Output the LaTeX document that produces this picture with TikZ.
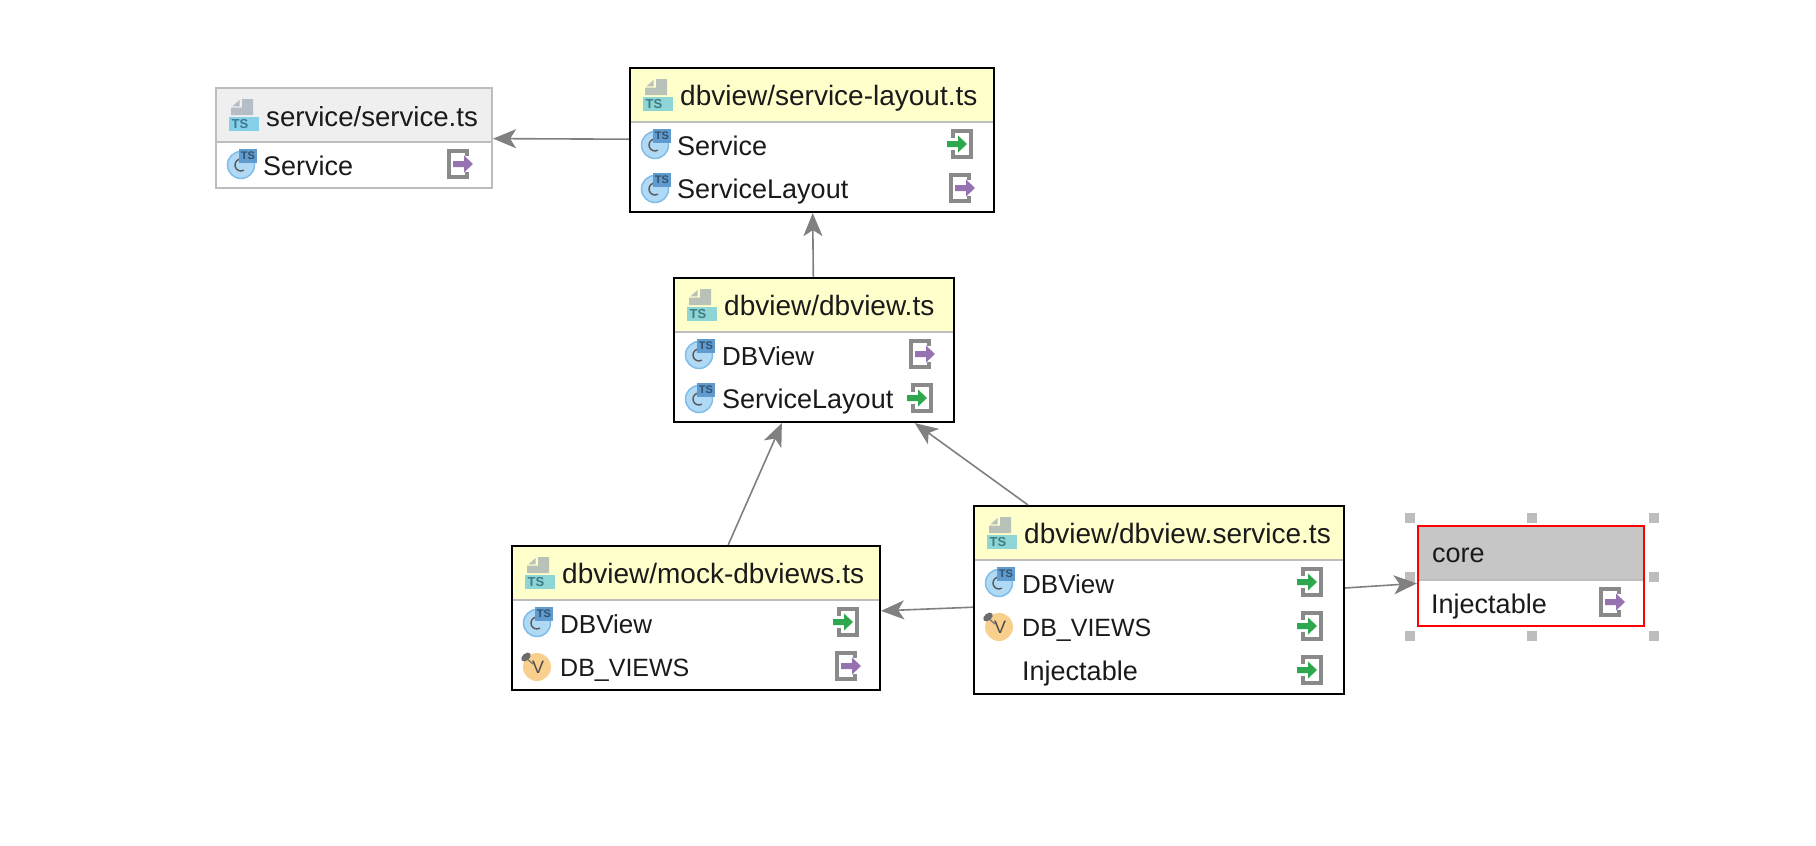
\documentclass[tikz,border=0pt]{standalone}
\usepackage{fontspec}
\setmainfont{Liberation Sans}
\usetikzlibrary{arrows.meta}
\definecolor{yellowhead}{HTML}{FFFFCC}
\definecolor{grayhead}{HTML}{EFEFEF}
\definecolor{corehead}{HTML}{C6C6C6}
\definecolor{sepgray}{HTML}{BDBDBD}
\definecolor{edgegray}{HTML}{808080}
\definecolor{txt}{HTML}{1A1A1A}
\definecolor{framegray}{HTML}{8A8A8A}
\definecolor{ingreen}{HTML}{2EA84F}
\definecolor{outpurple}{HTML}{9673B0}
\definecolor{circfill}{HTML}{B0D9F6}
\definecolor{circedge}{HTML}{7FBDE8}
\definecolor{tsbox}{HTML}{5F9BCF}
\definecolor{tsink}{HTML}{34506B}
\definecolor{varfill}{HTML}{F9CF8E}
\definecolor{doca}{HTML}{B5BDC6}
\definecolor{banda}{HTML}{85CFE8}
\definecolor{inka}{HTML}{3A7A90}
\definecolor{docb}{HTML}{B9C2B8}
\definecolor{bandb}{HTML}{8ED6D5}
\definecolor{inkb}{HTML}{3F7A85}
\tikzset{
  x=1pt,y=-1pt,
  umlbox/.style={rectangle,line width=2.2pt,inner sep=0pt,fill=white},
  label/.style={anchor=base west,inner sep=0pt,text=txt,font=\fontsize{27}{30}\selectfont},
  titlelabel/.style={label,font=\fontsize{28}{30}\selectfont},
  dbviewlabel/.style={label,font=\fontsize{26}{30}\selectfont},
  dbviewslabel/.style={label,font=\fontsize{25}{30}\selectfont},
  edge/.style={draw=edgegray,line width=1.6pt,-{Stealth[length=23pt,width=19pt,inset=6pt]}},
  handle/.style={fill=sepgray},
  frameline/.style={draw=framegray,line width=4pt},
  tsmark/.style={inner sep=0pt,text=tsink,font=\fontsize{11}{12}\selectfont\bfseries},
}
% name, left, top, right, bottom, separator y, border colour, head colour
\newcommand\mybox[8]{%
  \pgfmathsetmacro\bw{#4-#2}\pgfmathsetmacro\bh{#5-#3}%
  \node[umlbox,draw=#7,minimum width=\bw pt,minimum height=\bh pt] (#1) at ({(#2+#4)/2},{(#3+#5)/2}) {};
  \fill[#8] ({#2+1.1},{#3+1.1}) rectangle ({#4-1.1},#6);
  \draw[sepgray,line width=2pt] ({#2+1.1},#6) -- ({#4-1.1},#6);
}
% name, left, top, doc colour, band colour, band text colour
\newcommand\fileicon[6]{%
  \begin{scope}[shift={(#2,#3)}]
    \fill[#4] (26,11) -- (37,11) -- (37,27) -- (15,27) -- (15,19.5) -- (26,19.5) -- cycle;
    \fill[#4] (23.5,12) -- (23.5,18.3) -- (16.5,18.3) -- cycle;
    \fill[#5] (13,29) rectangle (43,43);
    \node[inner sep=0pt,text=#6,font=\fontsize{13}{13}\selectfont\bfseries] (#1) at (24,36.5) {TS};
  \end{scope}
}
% name, centre x, centre y
\newcommand\classicon[3]{%
  \begin{scope}[shift={(#2,#3)}]
    \fill[circfill] (0,0) circle[radius=13.5pt];
    \draw[circedge,line width=1.5pt] (0,0) circle[radius=13.5pt];
    \draw[black!65,line width=1.4pt] (0,-6) arc[start angle=90,end angle=300,radius=6pt];
    \fill[tsbox] (-2,-16) rectangle (16,-2);
    \node[tsmark] (#1) at (7,-9) {TS};
  \end{scope}
}
\newcommand\varicon[3]{%
  \begin{scope}[shift={(#2,#3)}]
    \fill[varfill] (0,0) circle[radius=14pt];
    \draw[black!55,line width=1.2pt] (-11,-9) -- (-4,-3);
    \fill[gray!85!black,rotate around={40:(-11,-10)}] (-11,-10) ellipse[x radius=5.5pt,y radius=3.5pt];
    \node[inner sep=0pt,text=black!70,font=\fontsize{18}{18}\selectfont] (#1) at (1,0) {V};
  \end{scope}
}
% frame left, centre y
\newcommand\inicon[2]{%
  \begin{scope}[shift={(#1,#2)}]
    \draw[frameline] (2,-13) rectangle (20,13);
    \fill[white] (-1,-6) rectangle (5,6);
    \fill[ingreen] (-4,-3) -- (7,-3) -- (7,-8.5) -- (16,0) -- (7,8.5) -- (7,3) -- (-4,3) -- cycle;
  \end{scope}
}
\newcommand\outicon[2]{%
  \begin{scope}[shift={(#1,#2)}]
    \draw[frameline] (2,-13) rectangle (20,13);
    \fill[white] (16,-8) rectangle (23,8);
    \fill[outpurple] (6,-3) -- (17,-3) -- (17,-8.5) -- (26,0) -- (17,8.5) -- (17,3) -- (6,3) -- cycle;
  \end{scope}
}
\begin{document}
\begin{tikzpicture}
\useasboundingbox (0,0) rectangle (1816,846);
\fill[white] (0,0) rectangle (1816,846);
% selection handles
\foreach \hx in {1410,1532,1654}{
  \foreach \hy in {518,636}{\fill[handle] ({\hx-5},{\hy-5}) rectangle ({\hx+5},{\hy+5});}
}
\foreach \hx in {1410,1654}{\fill[handle] ({\hx-5},572) rectangle ({\hx+5},582);}

\mybox{service}{216}{88}{492}{188}{142}{sepgray}{grayhead}
\fileicon{serviceTS}{216}{88}{doca}{banda}{inka}
\node[label,font=\fontsize{27.6}{30}\selectfont] (serviceT) at (266,126) {service/service.ts};
\classicon{serviceR1i}{241}{165}
\node[label] (serviceR1) at (263,175) {Service};
\outicon{447}{164}

\mybox{layout}{630}{68}{994}{212}{122}{black}{yellowhead}
\fileicon{layoutTS}{630}{68}{docb}{bandb}{inkb}
\node[titlelabel] (layoutT) at (680,105) {dbview/service-layout.ts};
\classicon{layoutR1i}{655}{145}
\node[label] (layoutR1) at (677,155) {Service};
\inicon{951}{144}
\classicon{layoutR2i}{655}{189}
\node[label] (layoutR2) at (677,198) {ServiceLayout};
\outicon{949}{188}

\mybox{dbview}{674}{278}{954}{422}{332}{black}{yellowhead}
\fileicon{dbviewTS}{674}{278}{docb}{bandb}{inkb}
\node[titlelabel] (dbviewT) at (724,315) {dbview/dbview.ts};
\classicon{dbviewR1i}{699}{355}
\node[dbviewlabel] (dbviewR1) at (722,365) {DBView};
\outicon{909}{354}
\classicon{dbviewR2i}{699}{399}
\node[label] (dbviewR2) at (722,408) {ServiceLayout};
\inicon{911}{398}

\mybox{mock}{512}{546}{880}{690}{600}{black}{yellowhead}
\fileicon{mockTS}{512}{546}{docb}{bandb}{inkb}
\node[titlelabel] (mockT) at (562,583) {dbview/mock-dbviews.ts};
\classicon{mockR1i}{537}{623}
\node[dbviewlabel] (mockR1) at (560,633) {DBView};
\inicon{837}{622}
\varicon{mockR2i}{537}{667}
\node[dbviewslabel] (mockR2) at (560,676) {DB\_VIEWS};
\outicon{835}{666}

\mybox{dbservice}{974}{506}{1344}{694}{560}{black}{yellowhead}
\fileicon{dbserviceTS}{974}{506}{docb}{bandb}{inkb}
\node[titlelabel] (dbserviceT) at (1024,543) {dbview/dbview.service.ts};
\classicon{dbserviceR1i}{999}{583}
\node[dbviewlabel] (dbserviceR1) at (1022,593) {DBView};
\inicon{1301}{582}
\varicon{dbserviceR2i}{999}{627}
\node[dbviewslabel] (dbserviceR2) at (1022,636) {DB\_VIEWS};
\inicon{1301}{626}
\node[label] (dbserviceR3) at (1022,680) {Injectable};
\inicon{1301}{670}

\mybox{core}{1418}{526}{1644}{626}{580}{red}{corehead}
\node[label] (coreT) at (1432,562) {core};
\node[label] (coreR1) at (1431,613) {Injectable};
\outicon{1599}{602}

\draw[edge] (layout) -- (service);
\draw[edge] (dbview) -- (layout);
\draw[edge] (mock) -- (dbview);
\draw[edge] (dbservice) -- (dbview);
\draw[edge] (dbservice) -- (mock);
\draw[edge] (dbservice) -- (core);
\end{tikzpicture}
\end{document}
